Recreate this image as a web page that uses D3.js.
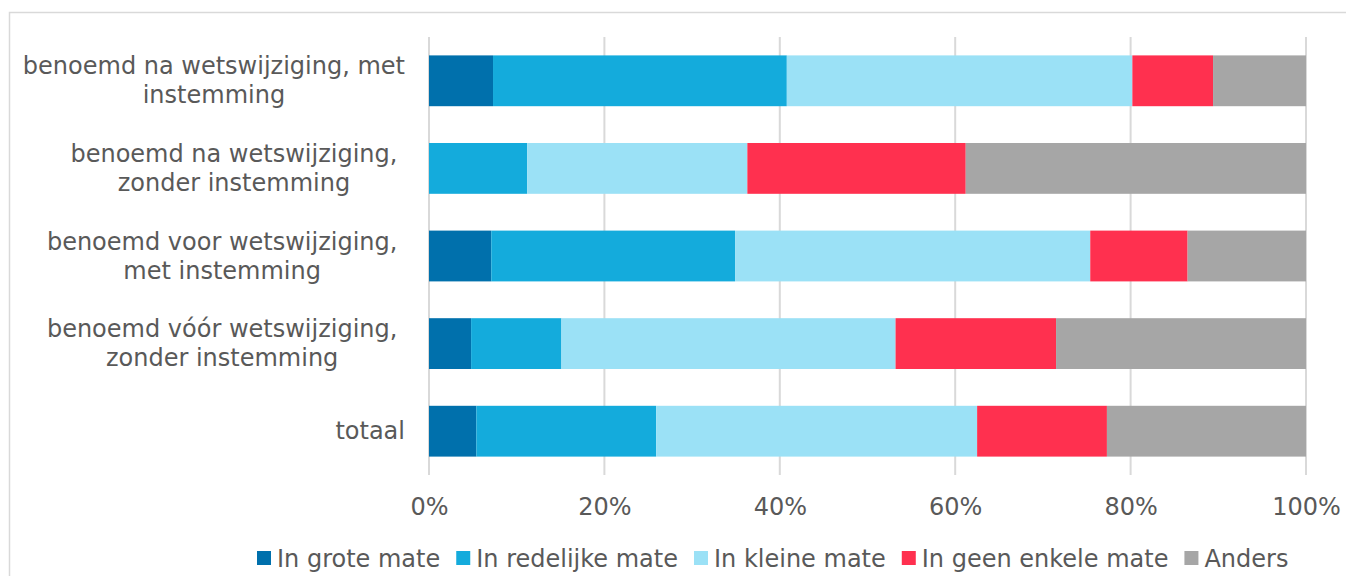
<!DOCTYPE html>
<html>
<head>
<meta charset="utf-8" />
<script src="https://cdn.jsdelivr.net/npm/d3@7"></script>
<style>
    body { margin: 0; background: #fff; }
    text { font-family: "DejaVu Sans", Verdana, sans-serif; fill: #595959; }
</style>
</head>
<body>
<script>
    // data (percent of each row)
    var categories = [
        "benoemd na wetswijziging, met|instemming",
        "benoemd na wetswijziging,|zonder instemming",
        "benoemd voor wetswijziging,|met instemming",
        "benoemd vóór wetswijziging,|zonder instemming",
        "totaal"
    ];
    var seriesNames = ["In grote mate", "In redelijke mate", "In kleine mate", "In geen enkele mate", "Anders"];
    var grote    = [7.3, 0,    7.1,  4.8,  5.4];
    var redelijk = [33.5, 11.2, 27.8, 10.3, 20.5];
    var klein    = [39.4, 25.1, 40.5, 38.1, 36.6];
    var geen     = [9.2, 24.9, 11.1, 18.3, 14.8];
    var anders   = [10.6, 38.8, 13.5, 28.5, 22.7];
    var ticks = [0, 0.2, 0.4, 0.6, 0.8, 1];
    var colors = ["#0070ac", "#14abdc", "#9be1f6", "#ff304f", "#a6a6a6"];

    var svgWidth = 1346, svgHeight = 576;
    var margin = {top: 37, right: 40, bottom: 101, left: 429};
    var width = 1306 - margin.left,
        height = svgHeight - margin.top - margin.bottom;
    var fontSize = "24px";

    var svg = d3.select("body").append("svg")
        .attr("width", svgWidth)
        .attr("height", svgHeight);

    // chart border (only top/left visible in the picture)
    svg.append("rect")
        .attr("x", 9.5).attr("y", 12.5)
        .attr("width", 1346).attr("height", 600)
        .attr("fill", "none")
        .attr("stroke", "#d9d9d9")
        .attr("stroke-width", 1.5);

    var g = svg.append("g").attr("transform", "translate(" + margin.left + "," + margin.top + ")");

    var rows = categories.map(function(c, i) {
        return {cat: c, v: [grote[i], redelijk[i], klein[i], geen[i], anders[i]]};
    });

    var x = d3.scaleLinear().domain([0, 1]).range([0, width]);
    var y = d3.scaleBand().domain(categories).range([0, height]).paddingInner(0.42).paddingOuter(0.21);

    // gridlines
    g.selectAll(".grid").data(ticks).enter().append("line")
        .attr("x1", d => x(d)).attr("x2", d => x(d))
        .attr("y1", 0).attr("y2", height)
        .attr("stroke", "#d9d9d9").attr("stroke-width", 2);

    // stacked bars
    var stack = d3.stack().keys([0, 1, 2, 3, 4])
        .value((d, k) => d.v[k] / d3.sum(d.v));
    var layers = stack(rows);

    g.selectAll(".layer").data(layers).enter().append("g")
        .attr("fill", (d, i) => colors[i])
        .selectAll("rect").data(d => d).enter().append("rect")
        .attr("x", d => x(d[0]))
        .attr("width", d => x(d[1]) - x(d[0]))
        .attr("y", d => y(d.data.cat))
        .attr("height", y.bandwidth());

    // x axis labels
    var xAxis = d3.axisBottom(x).tickValues(ticks).tickFormat(d3.format(".0%")).tickSize(0).tickPadding(23);
    var ax = g.append("g").attr("transform", "translate(0," + height + ")").call(xAxis);
    ax.select(".domain").remove();
    ax.selectAll("text").style("font-size", fontSize).attr("fill", "#595959").attr("font-family", "DejaVu Sans, Verdana, sans-serif");

    // y labels: block right-aligned at labelRight, lines centred within the block
    // (a line that breaks after a comma keeps its trailing space, as Excel does)
    var labelRight = 405, spaceW = 7.6;
    svg.selectAll(".ylab").data(categories).enter().append("g")
        .each(function(d) {
            var parts = d.split("|");
            var grp = d3.select(this);
            var n = parts.length;
            var cy = margin.top + y(d) + y.bandwidth() / 2;
            var texts = parts.map(function(p, j) {
                return grp.append("text")
                    .attr("text-anchor", "middle")
                    .style("font-size", fontSize)
                    .attr("y", cy + 8 + (j - (n - 1) / 2) * 29)
                    .text(p);
            });
            var w = d3.max(texts, t => t.node().getComputedTextLength());
            var pad = /,$/.test(parts[0]) ? spaceW : 0;
            var cx = labelRight - (w + pad) / 2 - pad / 2;
            texts.forEach(t => t.attr("x", cx));
        });

    // legend
    var legend = svg.append("g").attr("transform", "translate(257,558)");
    var lx = 0;
    seriesNames.forEach(function(name, i) {
        var item = legend.append("g").attr("transform", "translate(" + lx + ",0)");
        item.append("rect").attr("x", 0).attr("y", -7).attr("width", 14).attr("height", 14).attr("fill", colors[i]);
        var t = item.append("text").attr("x", 20).attr("y", 8.5).style("font-size", fontSize).text(name);
        lx += 20 + t.node().getComputedTextLength() + 16;
    });
</script>
</body>
</html>
